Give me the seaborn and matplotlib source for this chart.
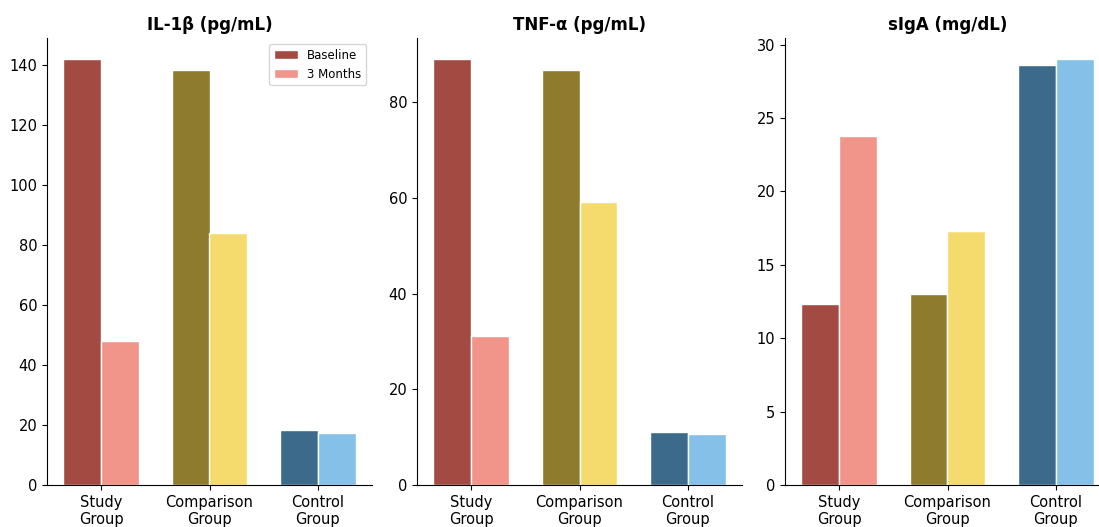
import matplotlib
matplotlib.use("Agg")
import matplotlib.pyplot as plt
import seaborn as sns
import pandas as pd
from matplotlib.patches import Patch

groups = ["Study\nGroup", "Comparison\nGroup", "Control\nGroup"]
timepoints = ["Baseline", "3 Months"]

il1b_baseline = [142, 138.3, 18.2]
il1b_3m = [48, 84, 17.5]
tnf_baseline = [89, 86.7, 11.1]
tnf_3m = [31.2, 59.2, 10.7]
siga_baseline = [12.3, 13.0, 28.6]
siga_3m = [23.8, 17.3, 29.0]

titles = ["IL-1β (pg/mL)", "TNF-α (pg/mL)", "sIgA (mg/dL)"]
panels = [(il1b_baseline, il1b_3m), (tnf_baseline, tnf_3m), (siga_baseline, siga_3m)]

dark_colors = ["#A34A42", "#8F7B2E", "#3C6A8A"]
light_colors = ["#F1958A", "#F5DB6E", "#85C0E8"]

sns.set_style("ticks", {"axes.edgecolor": "black", "text.color": "black",
                        "xtick.color": "black", "ytick.color": "black",
                        "axes.labelcolor": "black"})
plt.rcParams['font.family'] = ['DejaVu Sans']

fig = plt.figure(figsize=(10.99, 5.27), dpi=100)
lefts = [47 / 1099, 417 / 1099, 785 / 1099]
w = 325 / 1099
bottom = 1 - 485 / 527
h = (485 - 38) / 527

for i, ((base, m3), title) in enumerate(zip(panels, titles)):
    ax = fig.add_axes([lefts[i], bottom, w, h])
    df = pd.DataFrame({
        "group": groups * 2,
        "time": [timepoints[0]] * 3 + [timepoints[1]] * 3,
        "value": list(base) + list(m3),
    })
    sns.barplot(data=df, x="group", y="value", hue="time", order=groups,
                hue_order=timepoints, width=0.7, ax=ax, legend=False,
                edgecolor="white", linewidth=1)
    bars = [p for p in ax.patches if p.get_height() > 0]
    for j, p in enumerate(bars[:3]):
        p.set_facecolor(dark_colors[j])
    for j, p in enumerate(bars[3:6]):
        p.set_facecolor(light_colors[j])
    ax.set_title(title, fontweight="bold", fontsize=12, color="black")
    ax.set_xlabel("")
    ax.set_ylabel("")
    ax.tick_params(axis="both", labelsize=10.5, colors="black")
    sns.despine(ax=ax)
    if i == 0:
        handles = [Patch(facecolor=dark_colors[0], edgecolor="white"),
                   Patch(facecolor=light_colors[0], edgecolor="white")]
        ax.legend(handles, timepoints, loc="upper right", fontsize=8.5)

fig.savefig("out.png", dpi=100)
